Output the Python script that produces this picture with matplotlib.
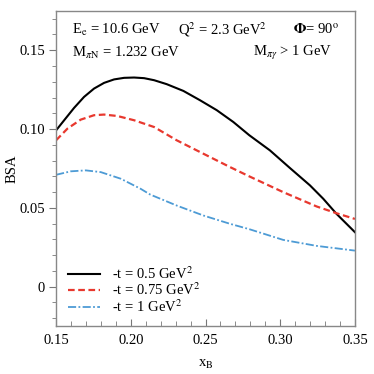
import matplotlib
matplotlib.use("Agg")
import matplotlib.pyplot as plt
from matplotlib.ticker import MultipleLocator, FixedFormatter, FixedLocator

# values
x_black = [0.150, 0.1554, 0.162, 0.1687, 0.1754, 0.1821, 0.1888, 0.1955, 0.2022, 0.2089,
           0.2156, 0.224, 0.2352, 0.2463, 0.2575, 0.2686, 0.2793, 0.2931, 0.3065, 0.3199,
           0.3288, 0.3377, 0.350]
y_black = [0.0992, 0.1056, 0.1134, 0.1204, 0.1257, 0.1293, 0.1315, 0.1325, 0.1327, 0.1323,
           0.1310, 0.1285, 0.1242, 0.1183, 0.1120, 0.1045, 0.0961, 0.0865, 0.0753, 0.0643,
           0.0558, 0.0462, 0.0346]

x_red = [0.150, 0.1576, 0.1665, 0.1754, 0.1821, 0.1910, 0.2022, 0.2156, 0.2307, 0.2485,
         0.2664, 0.2793, 0.3020, 0.3244, 0.3377, 0.350]
y_red = [0.0929, 0.1003, 0.1060, 0.1088, 0.1092, 0.1083, 0.1056, 0.1013, 0.0929, 0.0844,
         0.0759, 0.0700, 0.0600, 0.0509, 0.0466, 0.0430]

x_blue = [0.150, 0.1598, 0.1699, 0.1799, 0.1933, 0.2066, 0.2129, 0.2307, 0.2485, 0.2664,
          0.2793, 0.3020, 0.3244, 0.350]
y_blue = [0.0710, 0.0732, 0.0738, 0.0727, 0.0685, 0.0621, 0.0585, 0.0515, 0.0452, 0.0399,
          0.0365, 0.0297, 0.0259, 0.0229]

labels = ["-t = 0.5 GeV$^2$", "-t = 0.75 GeV$^2$", "-t = 1 GeV$^2$"]
xticks = [0.15, 0.20, 0.25, 0.30, 0.35]
xtick_labels = ["0.15", "0.20", "0.25", "0.30", "0.35"]
yticks = [0, 0.05, 0.10, 0.15]
ytick_labels = ["0", "0.05", "0.10", "0.15"]

plt.rcParams["font.family"] = ["Liberation Serif", "DejaVu Serif"]
plt.rcParams["mathtext.fontset"] = "stix"

fig = plt.figure(figsize=(3.74, 3.74), dpi=100)
ax = fig.add_axes([0.150, 0.128, 0.799, 0.843])

ax.plot(x_black, y_black, color="black", lw=1.5, label=labels[0])
ax.plot(x_red, y_red, color="#e8382e", lw=1.6, ls=(0, (3, 1.6)), label=labels[1])
ax.plot(x_blue, y_blue, color="#4d9bd5", lw=1.3, ls=(0, (4.5, 1.3, 1.0, 1.3)), label=labels[2])

ax.set_xlim(0.15, 0.35)
ax.set_ylim(-0.025, 0.175)
ax.xaxis.set_major_locator(FixedLocator(xticks))
ax.xaxis.set_major_formatter(FixedFormatter(xtick_labels))
ax.xaxis.set_minor_locator(MultipleLocator(0.01))
ax.yaxis.set_major_locator(FixedLocator(yticks))
ax.yaxis.set_major_formatter(FixedFormatter(ytick_labels))
ax.yaxis.set_minor_locator(MultipleLocator(0.01))

ax.tick_params(axis="x", which="both", direction="in", labelsize=10.5, color="#777777", pad=6)
ax.tick_params(axis="x", which="major", length=5)
ax.tick_params(axis="x", which="minor", length=3.5)
ax.tick_params(axis="y", which="both", direction="out", labelsize=10.5, color="#777777", pad=3)
ax.tick_params(axis="y", which="major", length=5)
ax.tick_params(axis="y", which="minor", length=3)
for s in ax.spines.values():
    s.set_color("#888888")
    s.set_linewidth(1.0)

ax.set_xlabel("x$_\\mathrm{B}$", fontsize=10.5)
ax.set_ylabel("BSA", fontsize=10.5)
ax.xaxis.set_label_coords(0.5, -0.10)
ax.yaxis.set_label_coords(-0.124, 0.5)

kw = dict(transform=ax.transAxes, fontsize=10.5, va="center")
ax.text(0.054, 0.94, "E$_\\mathrm{e}$ = 10.6 GeV", **kw)
ax.text(0.408, 0.94, "Q$^2$ = 2.3 GeV$^2$", **kw)
ax.text(0.793, 0.94, "$\\mathbf{\\Phi}$= 90$^\\mathrm{o}$", **kw)
ax.text(0.054, 0.867, "M$_{\\pi\\mathrm{N}}$ = 1.232 GeV", **kw)
ax.text(0.659, 0.867, "M$_{\\pi\\gamma}$ > 1 GeV", **kw)

ax.legend(loc="lower left", bbox_to_anchor=(0.04, 0.035), frameon=False, fontsize=10.5,
          handlelength=2.2, handletextpad=0.8, labelspacing=0.0, borderpad=0,
          borderaxespad=0)

fig.savefig("out.png", dpi=100)
